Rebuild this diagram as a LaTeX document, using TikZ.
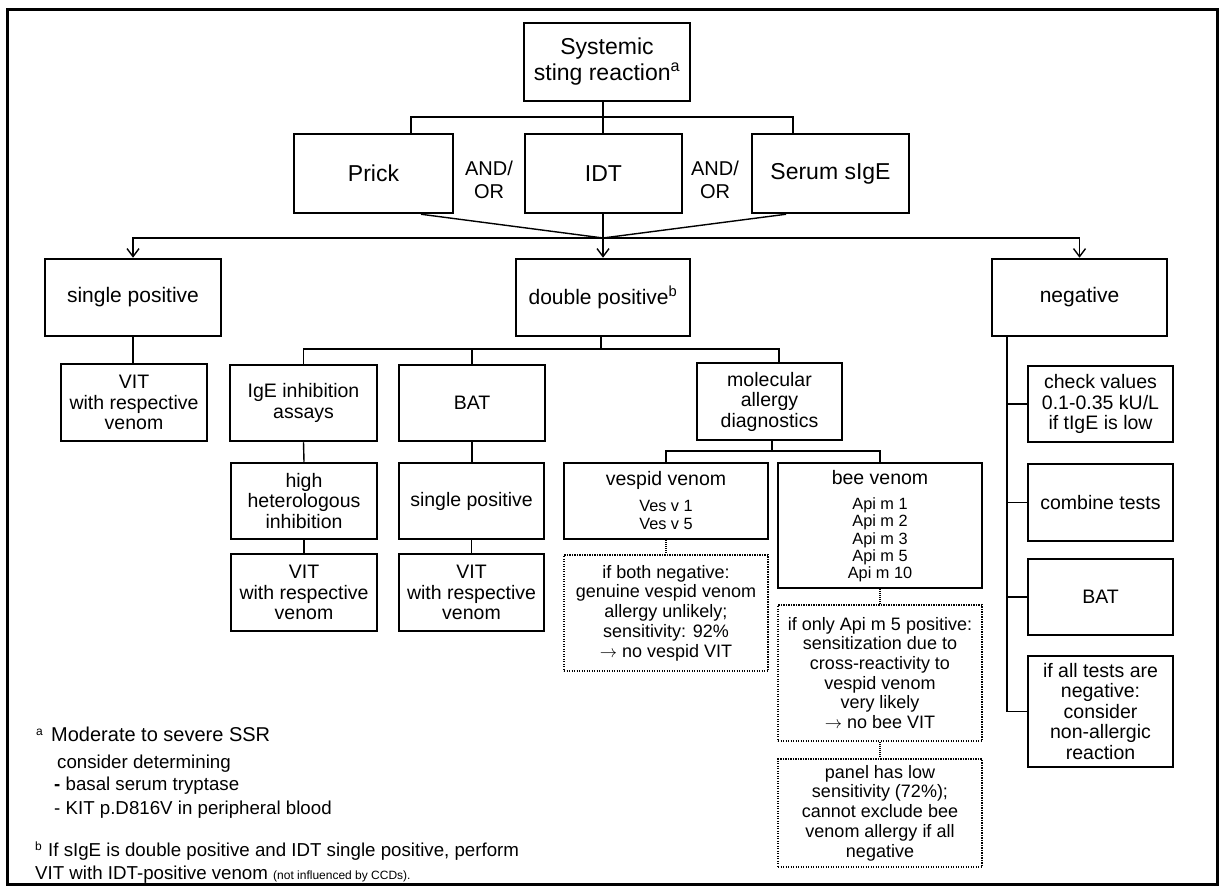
\documentclass[tikz,border=0pt]{standalone}
\usepackage{fontspec}
\setmainfont{Liberation Sans}
\usetikzlibrary{arrows.meta}
\begin{document}
\begin{tikzpicture}[x=1pt,y=-1pt,
  box/.style={draw, line width=2.5pt, align=center, inner sep=0pt},
  dbox/.style={draw, line width=2pt, dash pattern=on 1.3pt off 1.2pt, align=center, inner sep=0pt},
  conn/.style={line width=1.4pt},
  dconn/.style={line width=1.3pt, dash pattern=on 1pt off 1pt},
  arr/.style={conn, -{Straight Barb[length=8pt,width=12pt,line width=1.4pt]}},
  fA/.style={font=\fontsize{23}{26}\selectfont},
  fB/.style={font=\fontsize{21}{23}\selectfont},
  fC/.style={font=\fontsize{19.5}{20.5}\selectfont},
  fD/.style={font=\fontsize{18}{19.7}\selectfont},
  fE/.style={font=\fontsize{16.3}{17.3}\selectfont},
  fn/.style={anchor=base west, inner sep=0pt, font=\fontsize{18.7}{22}\selectfont},
  fnmark/.style={anchor=base west, inner sep=0pt, font=\fontsize{12}{12}\selectfont},
]
\useasboundingbox (0,0) rectangle (1222,890);
\draw[line width=3pt] (7,10) rectangle (1217,884);

% top level
\node[box, fA, minimum width=166pt, minimum height=78pt] (sys) at (607,62) {Systemic\\sting reaction\textsuperscript{a}};
\node[box, fA, minimum width=159pt, minimum height=79pt] (prick) at (373.5,173.5) {Prick};
\node[box, fA, minimum width=157pt, minimum height=79pt] (idt) at (603.5,173.5) {IDT};
\node[box, fA, minimum width=157pt, minimum height=79pt] (serum) at (830.5,173.5) {Serum sIgE};
\node[align=center, font=\fontsize{20}{23}\selectfont] (ao1) at (489,180) {AND/\\OR};
\node[align=center, font=\fontsize{20}{23}\selectfont] (ao2) at (715,180) {AND/\\OR};

% level 2
\node[box, fB, minimum width=176pt, minimum height=77pt] (sp) at (133,297.5) {single positive};
\node[box, fB, minimum width=174pt, minimum height=77pt] (dp) at (603,297.5) {double positive\textsuperscript{b}};
\node[box, fB, minimum width=175pt, minimum height=77pt] (neg) at (1079.5,297.5) {negative};

% single positive branch
\node[box, fC, minimum width=146pt, minimum height=77pt] (vit1) at (134,402.5) {VIT\\with respective\\venom};

% double positive branch
\node[box, fC, minimum width=147pt, minimum height=76pt] (ige) at (303.5,403) {IgE inhibition\\assays};
\node[box, fC, minimum width=146pt, minimum height=76pt] (bat) at (472,403) {BAT};
\node[box, fC, minimum width=145pt, minimum height=77pt] (mol) at (769.5,401.5) {molecular\\allergy\\diagnostics};
\node[box, fC, minimum width=146pt, minimum height=76pt] (het) at (304,501) {high\\heterologous\\inhibition};
\node[box, fC, minimum width=145pt, minimum height=76pt] (sp2) at (471.5,501) {single positive};
\node[box, fC, minimum width=146pt, minimum height=77pt] (vit2) at (304,592.5) {VIT\\with respective\\venom};
\node[box, fC, minimum width=145pt, minimum height=77pt] (vit3) at (471.5,592.5) {VIT\\with respective\\venom};

\node[box, minimum width=204pt, minimum height=76pt] (ves) at (666,501) {};
\node[fC] (vest) at (666,480) {vespid venom};
\node[fE, align=center] (vesl) at (666,515) {Ves v 1\\Ves v 5};
\node[box, minimum width=204pt, minimum height=125pt] (bee) at (880,525.5) {};
\node[fC] (beet) at (880,478) {bee venom};
\node[fE, align=center] (beel) at (880,540) {Api m 1\\Api m 2\\Api m 3\\Api m 5\\Api m 10};

\node[dbox, fD, minimum width=204pt, minimum height=116pt] (vesd) at (666,613) {if both negative:\\genuine vespid venom\\allergy unlikely;\\sensitivity: 92\%\\$\rightarrow$ no vespid VIT};
\node[dbox, fD, minimum width=204pt, minimum height=136pt] (beed1) at (880,673) {if only Api m 5 positive:\\sensitization due to\\cross-reactivity to\\vespid venom\\very likely\\$\rightarrow$ no bee VIT};
\node[dbox, fD, minimum width=204pt, minimum height=108pt] (beed2) at (880,813) {panel has low\\sensitivity (72\%);\\cannot exclude bee\\venom allergy if all\\negative};

% negative branch
\node[box, fC, minimum width=145pt, minimum height=76pt] (chk) at (1100.5,404) {check values\\0.1-0.35 kU/L\\if tIgE is low};
\node[box, fC, minimum width=145pt, minimum height=77pt] (comb) at (1100.5,502.5) {combine tests};
\node[box, fC, minimum width=145pt, minimum height=76pt] (bat2) at (1100.5,597) {BAT};
\node[box, fC, minimum width=145pt, minimum height=111pt] (allneg) at (1100.5,711.5) {if all tests are\\negative:\\consider\\non-allergic\\reaction};

% helper coordinates
\coordinate (j0) at (603,117);
\coordinate (ptx) at (411,117);
\coordinate (stx) at (793,117);
\coordinate (pbx) at (421,0);
\coordinate (sbx) at (786,0);
\coordinate (j1) at (603,238);
\coordinate (j2) at (601,349);
\coordinate (mtx) at (779,0);
\coordinate (j3) at (772,451);
\coordinate (nvx) at (1007,0);

% connectors top
\draw[conn] (sys.south -| j0) -- (idt.north -| j0);
\draw[conn] (prick.north -| ptx) -- (ptx) -- (stx) -- (serum.north -| stx);
\draw[conn] (prick.south -| pbx) -- (j1);
\draw[conn] (serum.south -| sbx) -- (j1);
\draw[conn] (idt.south -| j1) -- (j1);
\draw[arr] (j1) -- (dp.north -| j1);
\draw[arr] (j1) -| (sp.north);
\draw[arr] (j1) -| (neg.north);

% single positive
\draw[conn] (sp.south) -- (sp.south |- vit1.north);

% double positive
\draw[conn] (dp.south -| j2) -- (j2);
\draw[conn] (ige.north) -- (ige.north |- j2) -- (j2 -| mtx) -- (mol.north -| mtx);
\draw[conn] (bat.north) -- (bat.north |- j2);
\draw[conn] (ige.south) -- (het.north);
\draw[conn] (het.south) -- (vit2.north);
\draw[conn] (bat.south) -- (sp2.north -| bat.south);
\draw[conn] (sp2.south) -- (vit3.north);
\draw[conn] (mol.south -| j3) -- (j3);
\draw[conn] (ves.north) -- (ves.north |- j3) -- (bee.north |- j3) -- (bee.north);
\draw[dconn] (ves.south) -- (vesd.north);
\draw[dconn] (bee.south) -- (beed1.north);
\draw[dconn] (beed1.south) -- (beed2.north);

% negative
\draw[conn] (neg.south -| nvx) -- (nvx |- allneg.west) -- (allneg.west);
\draw[conn] (nvx |- chk.west) -- (chk.west);
\draw[conn] (nvx |- comb.west) -- (comb.west);
\draw[conn] (nvx |- bat2.west) -- (bat2.west);

% footnotes
\node[fnmark] (fam) at (36,735) {a};
\node[fn, font=\fontsize{20}{22}\selectfont] (fa1) at (51,741) {Moderate to severe SSR};
\node[fn] (fa2) at (57,768) {consider determining};
\node[fn] (fa3) at (54,790) {\textbf{-} basal serum tryptase};
\node[fn] (fa4) at (54,814) {- KIT p.D816V in peripheral blood};
\node[fnmark] (fbm) at (35,850) {b};
\node[fn] (fb1) at (48,856) {If sIgE is double positive and IDT single positive, perform};
\node[fn] (fb2) at (35,879) {VIT with IDT-positive venom {\fontsize{12}{12}\selectfont (not influenced by CCDs).}};
\end{tikzpicture}
\end{document}
